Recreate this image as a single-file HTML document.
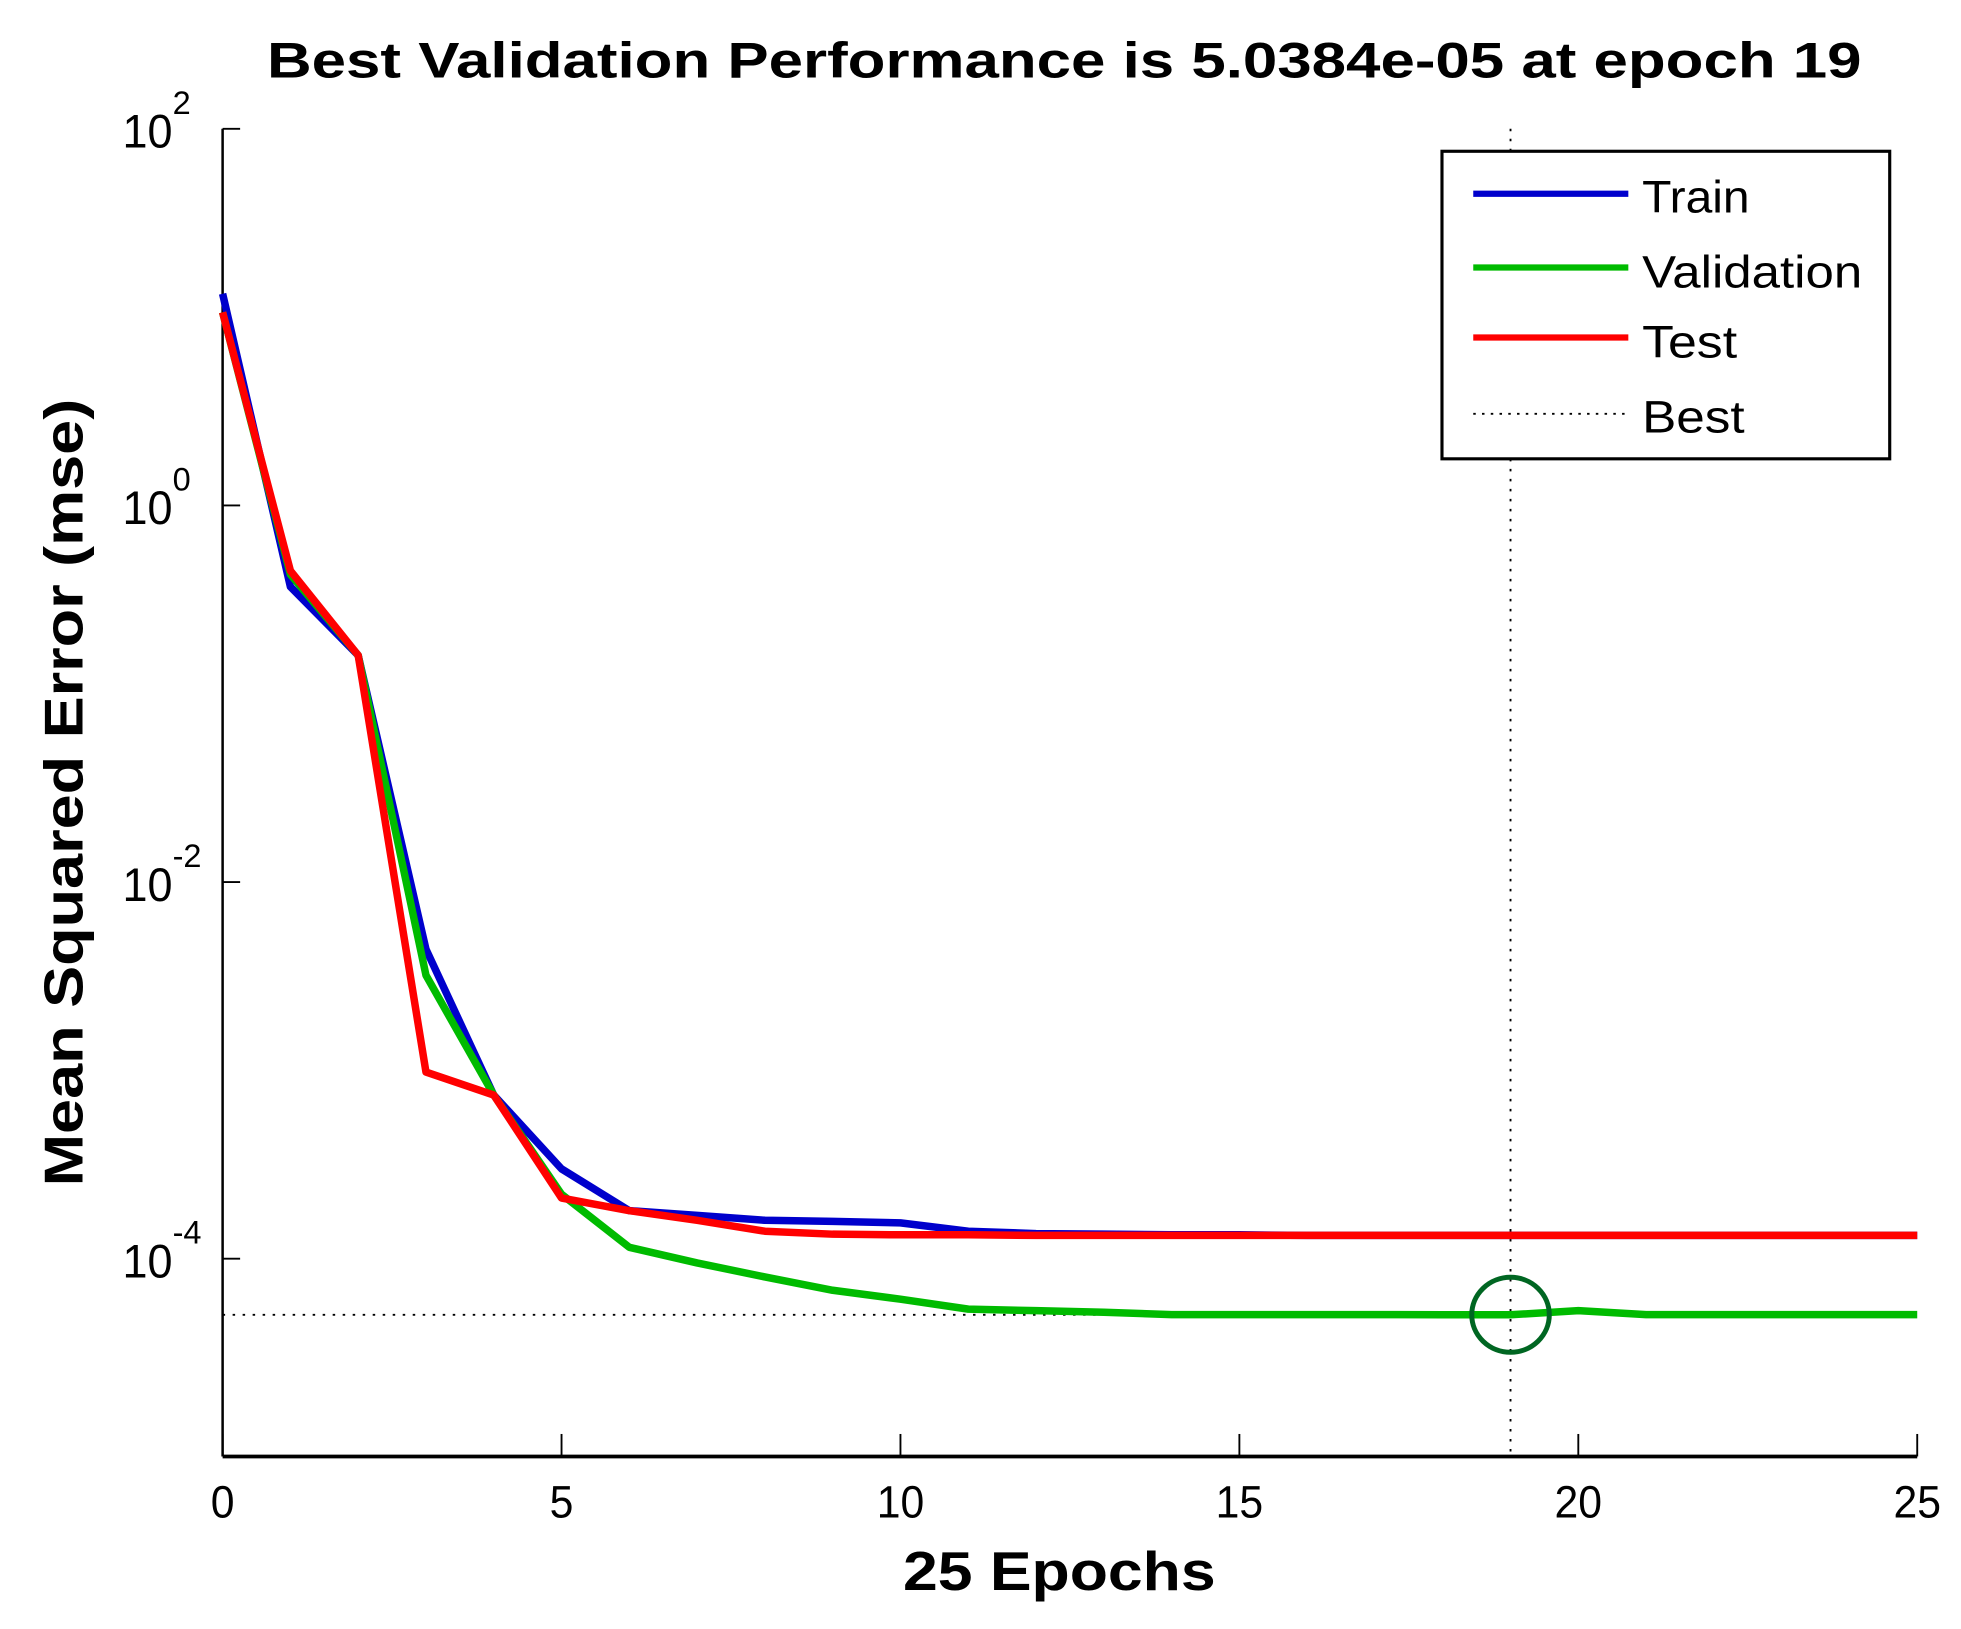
<!DOCTYPE html>
<html><head><meta charset="utf-8"><style>html,body{margin:0;padding:0;background:#fff}svg{display:block}</style></head>
<body>
<svg width="1961" height="1629" viewBox="0 0 1568 1303" preserveAspectRatio="none" xmlns="http://www.w3.org/2000/svg" font-family="Liberation Sans, sans-serif">
<rect width="1568" height="1303" fill="#fff"/>
<text x="851" y="62" text-anchor="middle" font-size="40" font-weight="bold" textLength="1275" lengthAdjust="spacingAndGlyphs">Best Validation Performance is 5.0384e-05 at epoch 19</text>
<text x="847" y="1272" text-anchor="middle" font-size="44" font-weight="bold" textLength="250" lengthAdjust="spacingAndGlyphs">25 Epochs</text>
<text transform="translate(66,634) rotate(-90)" text-anchor="middle" font-size="44" font-weight="bold" textLength="630" lengthAdjust="spacingAndGlyphs">Mean Squared Error  (mse)</text>
<g id="axes"></g>
<g id="series"></g>
<g id="legend">
<rect x="1153" y="121" width="358" height="246" fill="#fff" stroke="#000" stroke-width="2.5"/>
<g><line x1="1178" y1="155" x2="1302" y2="155" stroke="#0000cc" stroke-width="5"/><text x="1313" y="170" font-size="36" textLength="86" lengthAdjust="spacingAndGlyphs">Train</text></g>
<g><line x1="1178" y1="214" x2="1302" y2="214" stroke="#00bb00" stroke-width="5"/><text x="1313" y="230" font-size="36" textLength="176" lengthAdjust="spacingAndGlyphs">Validation</text></g>
<g><line x1="1178" y1="270" x2="1302" y2="270" stroke="#ff0000" stroke-width="5"/><text x="1313" y="286" font-size="36" textLength="76" lengthAdjust="spacingAndGlyphs">Test</text></g>
<g><line x1="1178" y1="331" x2="1302" y2="331" stroke="#000" stroke-width="1.5" stroke-dasharray="2,5"/><text x="1313" y="346" font-size="36" textLength="82" lengthAdjust="spacingAndGlyphs">Best</text></g>
</g>
</svg>
<script>
const epochs = [0,1,2,3,4,5,6,7,8,9,10,11,12,13,14,15,16,17,18,19,20,21,22,23,24,25];
const trainMse = [13.3,0.37,0.16,0.0044,7.4e-4,3.0e-4,1.8e-4,1.7e-4,1.6e-4,1.58e-4,1.55e-4,1.4e-4,1.36e-4,1.35e-4,1.34e-4,1.34e-4,1.33e-4,1.33e-4,1.33e-4,1.33e-4,1.33e-4,1.33e-4,1.33e-4,1.33e-4,1.33e-4,1.33e-4];
const valMse = [10.6,0.43,0.16,0.0032,7.4e-4,2.2e-4,1.15e-4,9.5e-5,8.0e-5,6.8e-5,6.1e-5,5.4e-5,5.3e-5,5.2e-5,5.05e-5,5.05e-5,5.05e-5,5.05e-5,5.04e-5,5.04e-5,5.3e-5,5.05e-5,5.05e-5,5.05e-5,5.05e-5,5.05e-5];
const testMse = [10.6,0.45,0.16,9.8e-4,7.4e-4,2.1e-4,1.8e-4,1.6e-4,1.4e-4,1.35e-4,1.34e-4,1.34e-4,1.33e-4,1.33e-4,1.33e-4,1.33e-4,1.33e-4,1.33e-4,1.33e-4,1.33e-4,1.33e-4,1.33e-4,1.33e-4,1.33e-4,1.33e-4,1.33e-4];
const xTicks = [0,5,10,15,20,25];
const yTickExps = [2,0,-2,-4];
const bestEpoch = 19;
const bestValue = 5.0384e-05;

const NS='http://www.w3.org/2000/svg';
const L=178,R=1533,T=103,B=1165, logMax=2, logMin=-5.05;
function xs(v){return L+(v-0)/25*(R-L);}
function ys(v){return T+(logMax-Math.log10(v))/(logMax-logMin)*(B-T);}
function mk(tag,attrs,parent){const e=document.createElementNS(NS,tag);for(const k in attrs)e.setAttribute(k,attrs[k]);parent.appendChild(e);return e;}
const ax=document.getElementById('axes'), sg=document.getElementById('series');
let e;
e=mk('line',{x1:L,y1:B,x2:R,y2:B,stroke:'#000','stroke-width':3},ax);


e=mk('line',{x1:L,y1:T,x2:L,y2:B,stroke:'#000','stroke-width':2},ax);


xTicks.forEach(t=>{
  const x=xs(t);
  mk('line',{x1:x,y1:B,x2:x,y2:B-18,stroke:'#000','stroke-width':1.5},ax);
  const tx=mk('text',{x:x,y:1214,'text-anchor':'middle','font-size':36,textLength:String(t).length*19,lengthAdjust:'spacingAndGlyphs'},ax);
  tx.textContent=t;
  
  
});
yTickExps.forEach(p=>{
  const y=ys(Math.pow(10,p));
  mk('line',{x1:L,y1:y,x2:L+14,y2:y,stroke:'#000','stroke-width':1.5},ax);
  const g=mk('text',{x:98,y:y+15,'font-size':38},ax);
  
  
  const a=mk('tspan',{textLength:40,lengthAdjust:'spacingAndGlyphs'},g);a.textContent='10';
  const b=mk('tspan',{dy:-27,'font-size':26},g);b.textContent=String(p);
});
e=mk('line',{x1:xs(bestEpoch),y1:T,x2:xs(bestEpoch),y2:B,stroke:'#000','stroke-width':1.5,'stroke-dasharray':'2,6'},sg);


e=mk('line',{x1:L,y1:ys(bestValue),x2:xs(bestEpoch),y2:ys(bestValue),stroke:'#000','stroke-width':1.5,'stroke-dasharray':'2,6'},sg);


function series(arr,color,name){
  const pts=epochs.map((ep,i)=>xs(ep)+','+ys(arr[i])).join(' ');
  const p=mk('polyline',{points:pts,fill:'none',stroke:color,'stroke-width':6,'stroke-linejoin':'round'},sg);
  
  
}
series(trainMse,'#0000cc','train-line');
series(valMse,'#00bb00','validation-line');
series(testMse,'#ff0000','test-line');
e=mk('ellipse',{cx:xs(bestEpoch),cy:ys(bestValue),rx:31,ry:30,fill:'none',stroke:'#006622','stroke-width':4},sg);


</script>
</body></html>
